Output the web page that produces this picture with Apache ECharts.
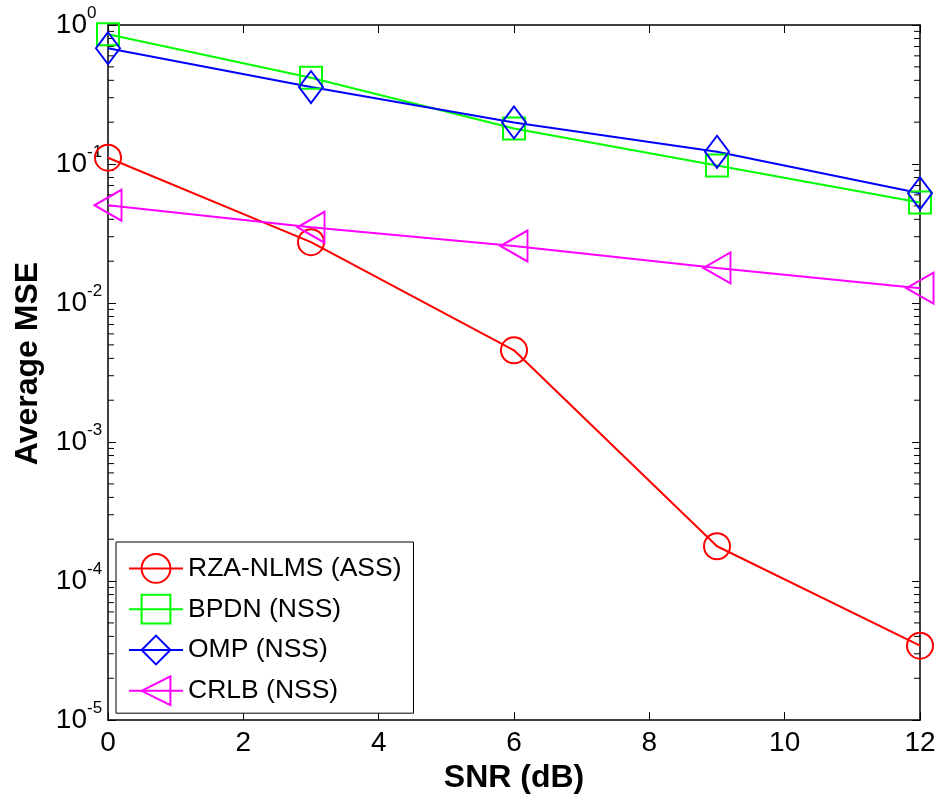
<!DOCTYPE html>
<html>
<head>
<meta charset="utf-8">
<script src="https://cdn.jsdelivr.net/npm/echarts@6/dist/echarts.min.js"></script>
<style>html,body{margin:0;padding:0;background:#fff;}#c{width:940px;height:799px;}</style>
</head>
<body>
<div id="c"></div>
<script>
const snr = [0, 3, 6, 9, 12];
const rzaNlms = [0.111, 0.0274, 0.00457, 0.000178, 0.0000343];
const bpdn = [0.857, 0.417, 0.180, 0.0977, 0.0528];
const omp = [0.681, 0.358, 0.199, 0.1225, 0.0616];
const crlb = [0.0505, 0.0351, 0.0257, 0.0179, 0.0128];
const seriesNames = ['RZA-NLMS (ASS)', 'BPDN (NSS)', 'OMP (NSS)', 'CRLB (NSS)'];
const xTicks = [0, 2, 4, 6, 8, 10, 12];

const FONT = "'Liberation Sans', Arial, sans-serif";
const minorVals = [];
for (let k = -5; k < 0; k++) for (let m = 2; m <= 9; m++) minorVals.push([0, m * Math.pow(10, k)]);

function pairs(ys) { return snr.map((x, i) => [x, ys[i]]); }
function mk(name, ys, color, symbol, size, rotate) {
  return {
    name: name, type: 'line', data: pairs(ys),
    symbol: symbol, symbolSize: size, symbolRotate: rotate || 0,
    showAllSymbol: true,
    lineStyle: { color: color, width: 2 },
    itemStyle: { color: 'rgba(255,255,255,0)', borderColor: color, borderWidth: 2 },
    emphasis: { disabled: true },
    animation: false, z: 3
  };
}

const chart = echarts.init(document.getElementById('c'), null, { renderer: 'canvas' });
const axisCommon = {
  axisLine: { show: true, onZero: false, lineStyle: { color: '#000', width: 1.5 } },
  axisTick: { inside: true, length: 8, lineStyle: { color: '#000', width: 1 } },
  splitLine: { show: false }
};
chart.setOption({
  animation: false,
  backgroundColor: '#fff',
  textStyle: { fontFamily: FONT },
  grid: { left: 108, right: 20, top: 25, bottom: 76, containLabel: false },
  legend: {
    orient: 'vertical', left: 116, top: 542,
    padding: [11, 12, 7, 12],
    backgroundColor: '#fff', borderColor: '#000', borderWidth: 1, borderRadius: 0,
    itemWidth: 54, itemHeight: 36, itemGap: 10,
    textStyle: { fontSize: 26.5, color: '#000', fontFamily: FONT },
    data: seriesNames
  },
  xAxis: [
    Object.assign({}, axisCommon, {
      type: 'value', min: 0, max: 12, interval: 2, position: 'bottom',
      name: 'SNR (dB)', nameLocation: 'middle', nameGap: 29,
      nameTextStyle: { fontSize: 32, fontWeight: 'bold', color: '#000', fontFamily: FONT },
      axisLabel: { fontSize: 28, color: '#000', margin: 9, fontFamily: FONT,
        formatter: v => xTicks.indexOf(v) >= 0 ? String(v) : '' }
    }),
    Object.assign({}, axisCommon, {
      type: 'value', min: 0, max: 12, interval: 2, position: 'top',
      axisLabel: { show: false }
    })
  ],
  yAxis: [
    Object.assign({}, axisCommon, {
      type: 'log', logBase: 10, min: 1e-5, max: 1, position: 'left',
      name: 'Average MSE', nameLocation: 'middle', nameGap: 64,
      nameTextStyle: { fontSize: 32, fontWeight: 'bold', color: '#000', fontFamily: FONT, padding: [0, 0, 0, 18] },
      axisLabel: {
        color: '#000', margin: 21, fontSize: 28, fontFamily: FONT,
        verticalAlign: 'middle', lineHeight: 28, padding: [4, 0, 0, 0],
        formatter: () => '10'
      }
    }),
    Object.assign({}, axisCommon, {
      type: 'log', logBase: 10, min: 1e-5, max: 1, position: 'right',
      axisLabel: { show: false }
    }),
    {
      type: 'log', logBase: 10, min: 1e-5, max: 1, position: 'left', offset: 0,
      axisLine: { show: false }, axisTick: { show: false }, splitLine: { show: false },
      axisLabel: {
        color: '#000', margin: 21, fontSize: 17, fontFamily: FONT,
        align: 'left', verticalAlign: 'bottom', lineHeight: 24,
        formatter: v => String(Math.round(Math.log10(v)))
      }
    }
  ],
  series: [
    mk(seriesNames[0], rzaNlms, '#ff0000', 'circle', 26),
    mk(seriesNames[1], bpdn, '#00ff00', 'rect', 22),
    mk(seriesNames[2], omp, '#0000ff', 'diamond', [24, 32]),
    mk(seriesNames[3], crlb, '#ff00ff', 'triangle', [31, 27], 90),
    {
      type: 'custom', name: 'minorTicks', data: minorVals, silent: true, z: 2,
      encode: { x: 0, y: 1 },
      renderItem: function (params, api) {
        const y = api.coord([0, api.value(1)])[1];
        const x0 = api.coord([0, api.value(1)])[0];
        const x1 = api.coord([12, api.value(1)])[0];
        const st = { stroke: '#000', lineWidth: 1 };
        return {
          type: 'group', children: [
            { type: 'line', shape: { x1: x0, y1: y, x2: x0 + 6, y2: y }, style: st },
            { type: 'line', shape: { x1: x1 - 6, y1: y, x2: x1, y2: y }, style: st }
          ]
        };
      }
    }
  ]
});
</script>
</body>
</html>
